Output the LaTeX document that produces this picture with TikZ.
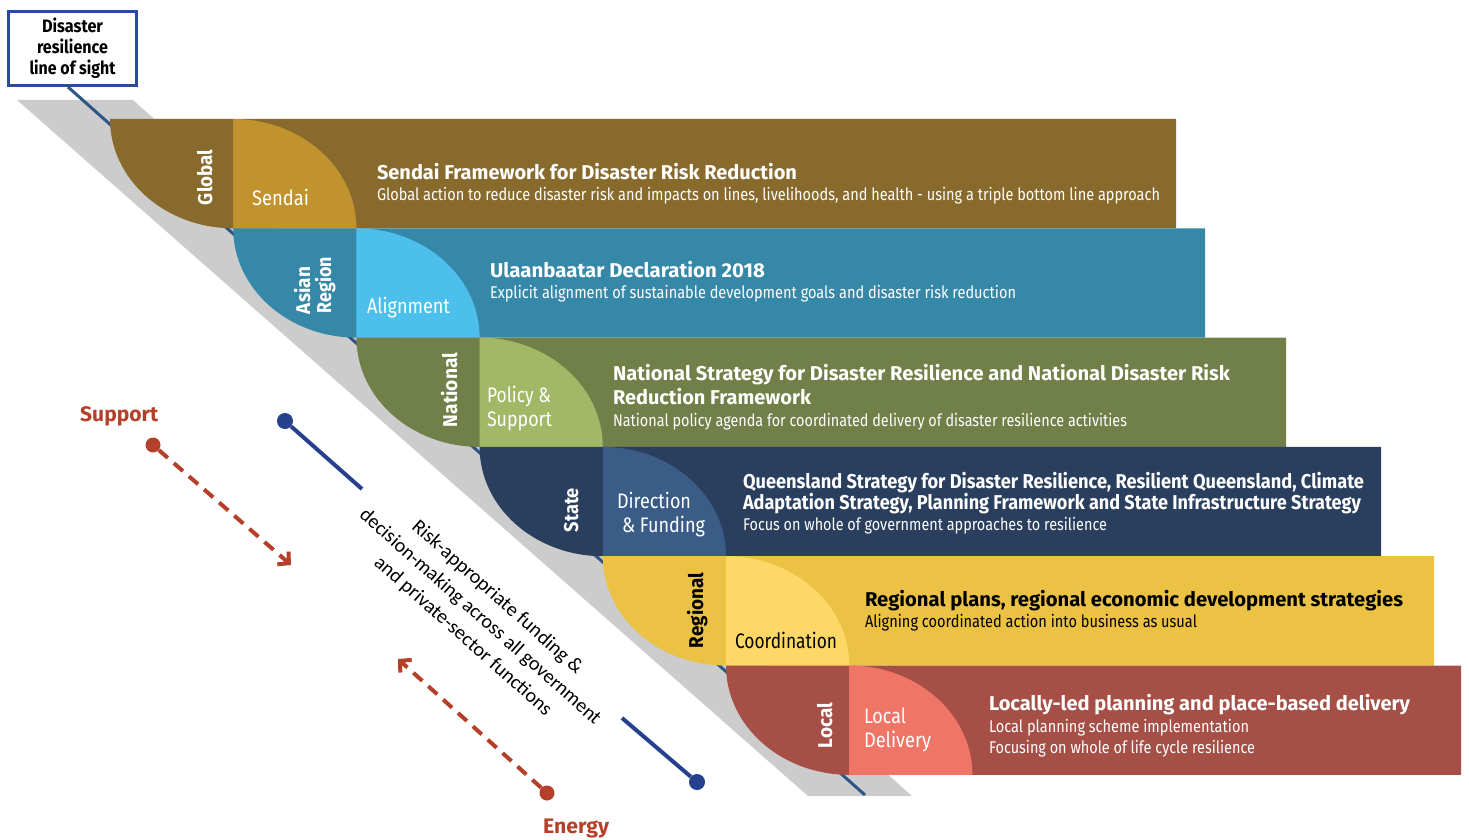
\documentclass[tikz,border=0pt]{standalone}
\usepackage{fontspec}
\setmainfont{Fira Sans}
\newfontfamily\carl{Carlito}
\usepackage{graphicx}
\usetikzlibrary{arrows.meta}
\definecolor{gD}{HTML}{886A2C}\definecolor{gL}{HTML}{C1932F}
\definecolor{aD}{HTML}{3688A8}\definecolor{aL}{HTML}{4DBFED}
\definecolor{nD}{HTML}{717F48}\definecolor{nL}{HTML}{A3B867}
\definecolor{sD}{HTML}{2A3F5D}\definecolor{sL}{HTML}{3B5C87}
\definecolor{rD}{HTML}{ECC245}\definecolor{rL}{HTML}{FDD868}
\definecolor{lD}{HTML}{A54F46}\definecolor{lL}{HTML}{EF7566}
\definecolor{greyband}{HTML}{CCCCCC}
\definecolor{losc}{HTML}{2E5585}
\definecolor{boxc}{HTML}{2A4A9A}
\definecolor{bluec}{HTML}{24408F}
\definecolor{redc}{HTML}{B5402A}
\newsavebox\fitbox
\newlength\fitlen
\newcommand\fitto[2]{\sbox\fitbox{#2}\fitlen=\wd\fitbox\pgfmathsetmacro\fitr{#1/\the\fitlen}\scalebox{\fitr}[1]{\usebox\fitbox}}
\tikzset{
  txt/.style={anchor=base west, inner sep=0pt, outer sep=0pt},
  ttl/.style={txt, font=\fontsize{20}{24}\selectfont\bfseries, text=white},
  subt/.style={txt, font=\fontsize{17}{20}\selectfont, text=white},
  leaf/.style={txt, font=\fontsize{21}{25}\selectfont, text=white},
  reg/.style={txt, rotate=90, font=\fontsize{20}{24}\selectfont\bfseries, text=white},
  dotR/.style={circle, fill=redc, inner sep=0pt, minimum size=15pt},
  dotB/.style={circle, fill=bluec, inner sep=0pt, minimum size=16pt},
  redarrow/.style={draw=redc, line width=4pt, dash pattern=on 12pt off 8pt, -{Straight Barb[length=8pt,width=17pt]}},
  blueline/.style={draw=bluec, line width=4pt},
  flow/.style={font=\fontsize{21}{25}\selectfont\bfseries, text=redc, anchor=base west, inner sep=0pt}
}
\begin{document}
\begin{tikzpicture}[x=1pt,y=-1pt]
\useasboundingbox (0,0) rectangle (1469,840);
% grey diagonal band
\fill[greyband] (17,100) -- (133,100) -- (912,796) -- (808,796) -- cycle;
% line of sight
\coordinate (los1) at (68,87);
\coordinate (los2) at (865,795);
\draw[losc, line width=3pt] (los1) -- (los2);
% tiers
\foreach \i/\xr/\dk/\lt in {0/1176/gD/gL,1/1205/aD/aL,2/1286/nD/nL,3/1381/sD/sL,4/1434/rD/rL,5/1461/lD/lL}{
  \pgfmathsetmacro\ty{119+109.3*\i}
  \pgfmathsetmacro\by{\ty+109.3}
  \pgfmathsetmacro\xl{110+123.2*\i}
  \pgfmathsetmacro\xm{\xl+123.2}
  \pgfmathsetmacro\xn{\xm+123.2}
  \fill[\dk] (\xl,\ty) -- (\xr,\ty) -- (\xr,\by) -- (\xm,\by) .. controls (\xm-68,\by) and (\xl,\ty+60.4) .. (\xl,\ty) -- cycle;
  \fill[\lt] (\xm,\ty) .. controls (\xm+68,\ty) and (\xn,\by-60.4) .. (\xn,\by) -- (\xm,\by) -- cycle;
}
% region labels
\node[reg] (rg) at (212,205) {\fitto{55}{Global}};
\node[reg] (ra1) at (310,314) {\fitto{47}{Asian}};
\node[reg] (ra2) at (331,313) {\fitto{56}{Region}};
\node[reg] (rn) at (457,427) {\fitto{74}{National}};
\node[reg] (rs) at (578,532) {\fitto{44}{State}};
\node[reg, text=black] (rr) at (703,648) {\fitto{75}{Regional}};
\node[reg] (rl) at (832,748) {\fitto{45}{Local}};
% leaf labels
\node[leaf] (lg) at (252,205) {\fitto{57}{Sendai}};
\node[leaf] (la) at (367,313) {\fitto{83}{Alignment}};
\node[leaf] (ln1) at (487,402) {\fitto{64}{Policy \&}};
\node[leaf] (ln2) at (487,426) {\fitto{65}{Support}};
\node[leaf] (ls1) at (617,508) {\fitto{74}{Direction}};
\node[leaf] (ls2) at (622,532) {\fitto{83}{\& Funding}};
\node[leaf, text=black] (lr) at (735,648) {\fitto{102}{Coordination}};
\node[leaf] (ll1) at (864,723) {\fitto{42}{Local}};
\node[leaf] (ll2) at (864,747) {\fitto{67}{Delivery}};
% descriptions
\node[ttl] (tg) at (377,179) {\fitto{420}{Sendai Framework for Disaster Risk Reduction}};
\node[subt] (sg) at (377,200) {\fitto{783}{Global action to reduce disaster risk and impacts on lines, livelihoods, and health - using a triple bottom line approach}};
\node[ttl] (ta) at (490,277) {\fitto{275}{Ulaanbaatar Declaration 2018}};
\node[subt] (sa) at (490,298) {\fitto{526}{Explicit alignment of sustainable development goals and disaster risk reduction}};
\node[ttl] (tn1) at (613,380) {\fitto{617}{National Strategy for Disaster Resilience and National Disaster Risk}};
\node[ttl] (tn2) at (613,404) {\fitto{198}{Reduction Framework}};
\node[subt] (sn) at (613,426) {\fitto{514}{National policy agenda for coordinated delivery of disaster resilience activities}};
\node[ttl] (ts1) at (743,488) {\fitto{621}{Queensland Strategy for Disaster Resilience, Resilient Queensland, Climate}};
\node[ttl] (ts2) at (743,509) {\fitto{618}{Adaptation Strategy, Planning Framework and State Infrastructure Strategy}};
\node[subt] (ss) at (743,530) {\fitto{364}{Focus on whole of government approaches to resilience}};
\node[ttl, text=black] (tr) at (865,606) {\fitto{538}{Regional plans, regional economic development strategies}};
\node[subt, text=black] (sr) at (865,627) {\fitto{332}{Aligning coordinated action into business as usual}};
\node[ttl] (tl) at (989,710) {\fitto{421}{Locally-led planning and place-based delivery}};
\node[subt] (sl1) at (989,732) {\fitto{260}{Local planning scheme implementation}};
\node[subt] (sl2) at (989,753) {\fitto{266}{Focusing on whole of life cycle resilience}};
% title box
\node[draw=boxc, line width=3pt, fill=white, minimum width=128pt, minimum height=74pt, inner sep=0pt, align=center,
      font=\fontsize{18}{21}\selectfont\bfseries] (box) at (72.5,48.5)
  {\fitto{61}{Disaster}\\\fitto{71}{resilience}\\\fitto{86}{line of sight}};
% support / energy
\node[flow] (sup) at (80,421) {\fitto{78}{Support}};
\node[dotR] (sdot) at (153,445) {};
\coordinate (stip) at (291,565);
\draw[redarrow] (sdot) -- (stip);
\node[flow] (ene) at (543,833) {\fitto{66}{Energy}};
\node[dotR] (edot) at (547,793) {};
\coordinate (etip) at (398,659);
\draw[redarrow] (edot) -- (etip);
% blue lines
\node[dotB] (bdot1) at (285,421) {};
\coordinate (bend1) at (362,489);
\draw[blueline] (bdot1) -- (bend1);
\node[dotB] (bdot2) at (697,782) {};
\coordinate (bend2) at (622,718);
\draw[blueline] (bend2) -- (bdot2);
% rotated text
\node[rotate=-41.5, align=center, font=\carl\fontsize{20}{26}\selectfont, inner sep=0pt] (risk) at (480,617)
  {\fitto{221}{Risk-appropriate funding \&}\\\fitto{315}{decision-making across all government}\\\fitto{230}{and private-sector functions}};
\end{tikzpicture}
\end{document}
